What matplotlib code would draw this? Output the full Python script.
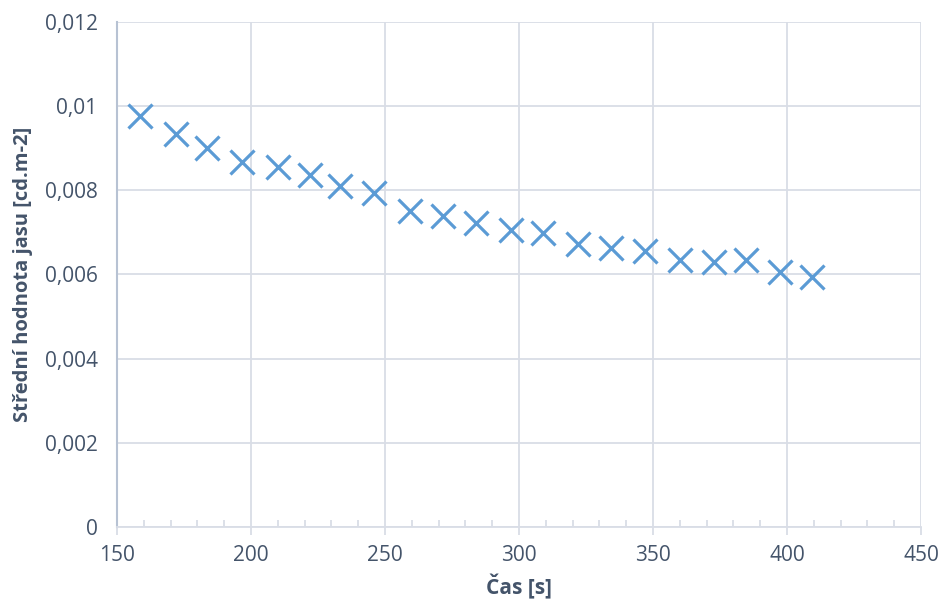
import numpy as np
import matplotlib
matplotlib.use("Agg")
import matplotlib.pyplot as plt
from matplotlib.ticker import MultipleLocator, FuncFormatter

# values
cas = [158.6, 172, 183.6, 196.6, 210, 222, 233.2, 245.9, 259.3, 271.6, 284,
       297, 309, 322, 334.3, 347, 360, 372.8, 384.7, 397.4, 409.3]
jas = [0.00977, 0.00934, 0.00901, 0.00867, 0.00855, 0.00836, 0.0081, 0.00794,
       0.00751, 0.00739, 0.00722, 0.00706, 0.00699, 0.00672, 0.00663, 0.00656,
       0.00634, 0.0063, 0.00634, 0.00606, 0.00594]

TXT = "#44546a"
GRID = "#d9dde6"
BLUE = "#5b9bd5"

plt.rcParams["font.family"] = ["Open Sans", "DejaVu Sans"]

fig = plt.figure(figsize=(9.41, 6.06), dpi=100)
ax = fig.add_axes([0.1243, 0.1304, 0.8545, 0.8333])

ax.plot(cas, jas, linestyle="none", marker="x", markersize=17,
        markeredgewidth=2.3, color=BLUE, zorder=3)

ax.set_xlim(150, 450)
ax.set_ylim(0, 0.012)
ax.xaxis.set_major_locator(MultipleLocator(50))
ax.xaxis.set_minor_locator(MultipleLocator(10))
ax.yaxis.set_major_locator(MultipleLocator(0.002))

def cz(v, pos):
    if abs(v) < 1e-12:
        return "0"
    return f"{v:.3f}".rstrip("0").replace(".", ",")

ax.yaxis.set_major_formatter(FuncFormatter(cz))

ax.grid(True, which="major", color=GRID, linewidth=1.3, zorder=0)
for s in ["top", "right"]:
    ax.spines[s].set_visible(False)
ax.spines["bottom"].set_color(GRID)
ax.spines["bottom"].set_linewidth(1.3)
ax.spines["left"].set_color("#b7c2d3")
ax.spines["left"].set_linewidth(1.5)

ax.tick_params(axis="x", which="major", direction="out", length=6, width=1.3,
               color=GRID, labelcolor=TXT, labelsize=15, pad=7)
ax.tick_params(axis="x", which="minor", direction="in", length=5, width=1.3,
               color=GRID)
ax.tick_params(axis="y", which="major", length=0, labelcolor=TXT,
               labelsize=15, pad=14)

ax.set_xlabel("Čas [s]", color=TXT, fontsize=15, fontweight="bold", labelpad=6)
ax.set_ylabel("Střední hodnota jasu [cd.m-2]", color=TXT, fontsize=14.5,
              fontweight="bold", labelpad=8)

fig.savefig("out.png", dpi=100)
